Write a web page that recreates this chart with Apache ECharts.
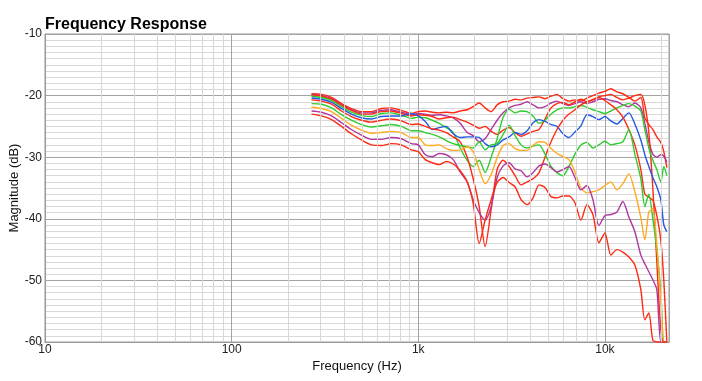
<!DOCTYPE html>
<html><head><meta charset="utf-8">
<script src="https://cdn.jsdelivr.net/npm/echarts@6/dist/echarts.min.js"></script>
<style>html,body{margin:0;padding:0;background:#fff}#c{width:702px;height:381px}</style>
</head><body><div id="c"></div>
<script>
// Frequencies (Hz) shared by all curves
const freqs = [268,303,343,388,438,496,561,634,717,811,918,1000,1090,1188,1295,1412,1539,1677,1828,1969,2120,2282,2457,2646,2848,3067,3302,3555,3827,4121,4437,4777,5143,5538,5962,6419,6911,7441,8012,8626,9287,10000,10767,11592,12481,13438,14468,15577,16365,17192,18061,18974,19933,20686,21467];

// Magnitude (dB) per curve
const s1 = [-19.7,-19.8,-20.3,-21.3,-22.1,-22.6,-22.6,-22.1,-22.0,-22.4,-22.9,-22.6,
  -22.5,-22.7,-22.8,-22.7,-22.8,-22.5,-22.3,-21.8,-21.2,-22.0,-22.6,-21.5,-21.0,-20.9,-20.6,-20.7,-20.4,-20.3,-20.2,-20.5,-20.1,-19.8,-20.5,-20.9,-20.7,-20.9,-20.4,-20.0,-19.6,-19.3,-18.9,-19.4,-19.7,-20.3,-20.9,-20.3,-23.6,-24.7,-25.5,-26.7,-27.6,-29.1,-31.7];
const s2 = [-19.8,-20.0,-20.5,-21.5,-22.3,-22.8,-22.8,-22.4,-22.3,-22.7,-23.1,-22.9,
  -23.0,-23.2,-23.1,-23.3,-23.6,-24.5,-26.0,-26.5,-27.5,-27.0,-25.5,-24.0,-22.8,-22.0,-21.6,-21.4,-21.0,-21.5,-22.0,-21.8,-21.2,-20.9,-21.3,-21.6,-21.3,-21.0,-21.3,-21.0,-20.6,-20.5,-20.8,-21.0,-21.5,-21.8,-21.2,-22.0,-24.5,-27.5,-29.5,-30.0,-29.6,-29.8,-30.8];
const s3 = [-19.9,-20.1,-20.6,-21.6,-22.4,-23.0,-23.0,-22.6,-22.5,-22.9,-23.3,-23.1,
  -23.2,-23.4,-23.8,-23.6,-23.5,-23.9,-24.3,-24.8,-25.3,-25.0,-25.8,-26.3,-25.6,-25.2,-26.0,-26.6,-26.2,-25.8,-25.5,-23.8,-22.0,-21.3,-21.1,-21.5,-21.0,-20.6,-21.0,-20.7,-20.2,-20.0,-19.8,-20.3,-20.7,-20.4,-20.0,-19.8,-21.5,-26.0,-35.0,-47.0,-58.0,-60,-60];
const s4 = [-20.1,-20.3,-20.8,-21.8,-22.7,-23.2,-23.4,-22.9,-22.8,-23.2,-23.7,-23.5,
  -23.6,-24.0,-24.5,-25.2,-26.0,-28.5,-30.5,-31.5,-30.5,-32.5,-30.0,-27.0,-23.5,-22.2,-22.8,-22.5,-22.6,-23.3,-24.5,-24.0,-23.0,-22.3,-22.0,-22.0,-21.8,-21.6,-21.9,-22.3,-22.6,-22.9,-22.5,-22.0,-21.6,-21.3,-21.7,-22.5,-25.5,-28.5,-30.5,-32.0,-34.0,-31.5,-33.0];
const s5 = [-20.4,-20.6,-21.1,-22.1,-23.0,-23.6,-23.8,-23.4,-23.3,-23.3,-22.9,-23.3,
  -24.2,-25.5,-25.2,-25.0,-26.2,-26.8,-26.7,-26.7,-26.8,-27.8,-28.3,-28.0,-27.2,-26.7,-26.0,-26.3,-25.7,-24.4,-23.9,-24.2,-24.7,-25.0,-26.2,-26.8,-25.9,-24.9,-23.1,-23.4,-23.9,-23.4,-24.1,-24.6,-23.7,-22.8,-24.6,-27.2,-29.6,-31.5,-33.3,-34.8,-36.9,-41.0,-42.1];
const s6 = [-20.7,-20.9,-21.4,-22.5,-23.4,-24.0,-24.3,-24.0,-23.8,-24.1,-24.7,-24.6,
  -25.0,-25.4,-25.6,-26.0,-26.7,-27.5,-30.0,-33.5,-38.0,-44.5,-38.5,-32.0,-30.5,-31.5,-33.0,-34.5,-34.0,-33.5,-32.5,-30.0,-27.5,-25.5,-24.0,-23.0,-22.3,-21.5,-21.0,-20.6,-20.3,-20.8,-21.5,-22.3,-23.5,-25.5,-28.0,-32.0,-36.0,-36.5,-37.0,-39.5,-43.5,-50.0,-60];
const s7 = [-21.3,-21.4,-22.0,-23.1,-24.0,-24.7,-25.1,-24.9,-24.7,-25.0,-25.7,-25.7,
  -26.0,-26.3,-26.7,-27.3,-27.8,-28.1,-28.3,-28.5,-27.5,-28.8,-28.0,-27.8,-26.3,-24.8,-26.5,-28.0,-28.5,-28.2,-28.0,-29.5,-31.5,-32.5,-33.0,-31.5,-29.5,-28.0,-27.6,-28.5,-28.0,-27.4,-28.0,-27.8,-27.5,-25.5,-29.5,-33.5,-38.0,-36.0,-40.0,-45.0,-52.0,-60,-60];
const s8 = [-21.9,-22.1,-22.6,-23.7,-24.8,-25.6,-26.1,-26.0,-25.8,-26.0,-26.8,-26.8,
  -28.0,-28.1,-28.0,-28.6,-28.9,-28.8,-28.3,-29.1,-32.0,-34.3,-32.8,-30.1,-28.1,-27.8,-28.6,-28.9,-28.9,-28.1,-27.5,-27.6,-28.6,-29.4,-29.9,-30.4,-32.4,-35.0,-35.8,-35.6,-35.3,-34.6,-34.0,-35.3,-34.3,-32.7,-35.6,-39.8,-43.4,-38.9,-38.4,-44.2,-53.2,-60,-60];
const s9 = [-22.5,-22.7,-23.3,-24.4,-25.5,-26.4,-27.1,-27.1,-26.8,-27.0,-27.8,-28.0,
  -29.6,-29.9,-29.4,-29.6,-30.4,-32.4,-34.0,-36.9,-39.0,-40.2,-38.0,-33.3,-31.4,-30.9,-31.9,-32.2,-33.2,-32.5,-31.4,-31.1,-31.7,-32.4,-32.0,-31.5,-33.3,-35.3,-34.6,-36.9,-41.1,-39.5,-39.3,-38.9,-37.2,-39.7,-42.1,-45.9,-47.3,-48.6,-49.9,-51.5,-60,-60,-60];
const s10 = [-23.0,-23.3,-23.9,-25.0,-26.2,-27.2,-28.0,-28.1,-27.8,-28.0,-28.8,-29.1,
  -30.4,-30.9,-31.2,-30.7,-31.1,-32.2,-34.0,-37.5,-44.0,-40.2,-36.9,-34.1,-33.3,-34.1,-34.8,-36.9,-37.7,-36.6,-34.5,-34.9,-36.4,-36.6,-36.3,-36.3,-37.4,-40.2,-37.7,-39.3,-43.9,-42.3,-45.9,-45.0,-45.4,-46.2,-47.5,-51.5,-56.4,-55.3,-59.7,-60,-60,-60,-60];

// Minor vertical grid positions (Hz)
const minorFreqs = [20,30,40,50,60,70,80,90,200,300,400,500,600,700,800,900,2000,3000,4000,5000,6000,7000,8000,9000,20000];

const RED = '#ff2a12', MAG = '#b0379f', GRN = '#2fcc2f', BLU = '#2259e0', ORG = '#ffab1f';
const curves = [s1, s2, s3, s4, s5, s6, s7, s8, s9, s10];
const colors = [RED, MAG, RED, GRN, BLU, RED, GRN, ORG, MAG, RED];
const FONT = '"Liberation Sans", Arial, Helvetica, sans-serif';

const series = curves.map((vals, i) => ({
  type: 'line',
  data: freqs.map((f, j) => [f, vals[j]]),
  showSymbol: false,
  smooth: 0.25,
  silent: true,
  z: 3,
  lineStyle: { color: colors[i], width: 1.4 },
  itemStyle: { color: colors[i] }
}));
series.unshift({
  type: 'line', data: [], z: 1, silent: true,
  markLine: {
    silent: true, symbol: ['none', 'none'], label: { show: false },
    lineStyle: { color: '#d6d6d6', width: 1, type: 'solid' },
    emphasis: { disabled: true },
    data: minorFreqs.map(f => ({ xAxis: f }))
  }
});

const chart = echarts.init(document.getElementById('c'));
chart.setOption({
  animation: false,
  backgroundColor: '#fff',
  title: {
    text: 'Frequency Response', left: 45, top: 17, padding: 0,
    textStyle: { fontSize: 16, fontWeight: 'bold', color: '#000', fontFamily: FONT }
  },
  grid: { left: 45, right: 33, top: 34, bottom: 39, containLabel: false, outerBoundsMode: 'none',
          show: true, borderColor: '#999', borderWidth: 1, backgroundColor: '#fff' },
  xAxis: {
    type: 'log', logBase: 10, min: 10, max: 22050,
    axisLine: { show: true, lineStyle: { color: '#999' } },
    axisTick: { show: false },
    splitLine: { show: true, lineStyle: { color: '#a3a3a3' } },
    axisLabel: {
      color: '#222', fontSize: 12, fontFamily: FONT, margin: 2, showMaxLabel: false,
      formatter: v => v >= 1000 ? Math.round(v / 1000) + 'k' : String(Math.round(v))
    },
    name: 'Frequency (Hz)', nameLocation: 'middle', nameGap: 18, nameMoveOverlap: false,
    nameTextStyle: { fontSize: 13, color: '#111', fontFamily: FONT }
  },
  yAxis: {
    type: 'value', min: -60, max: -10, interval: 10,
    axisLine: { show: true, lineStyle: { color: '#999' } },
    axisTick: { show: false },
    splitLine: { show: true, lineStyle: { color: '#a3a3a3' } },
    minorTick: { show: false, splitNumber: 10 },
    minorSplitLine: { show: true, lineStyle: { color: '#d9d9d9' } },
    axisLabel: { color: '#222', fontSize: 12, fontFamily: FONT, margin: 3 },
    name: 'Magnitude (dB)', nameLocation: 'middle', nameGap: 24, nameMoveOverlap: false,
    nameTextStyle: { fontSize: 13, color: '#111', fontFamily: FONT }
  },
  series: series
});
</script></body></html>
